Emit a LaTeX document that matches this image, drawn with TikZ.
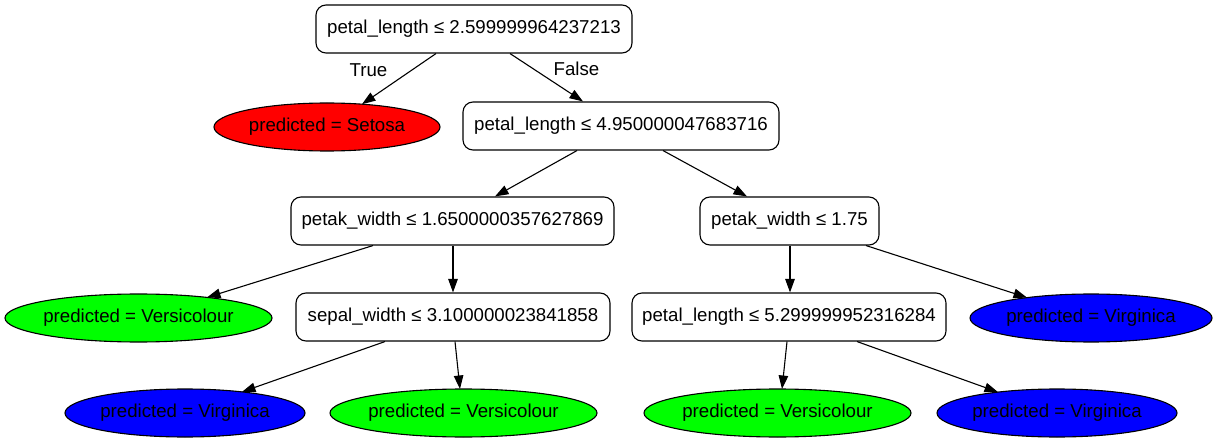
\documentclass[tikz,border=0pt]{standalone}
\usepackage{fontspec}
\setmainfont{Liberation Sans}
\usetikzlibrary{arrows.meta,shapes.geometric,calc}
\newcommand\zw[1]{\makebox[0pt]{#1}}
\begin{document}
\begin{tikzpicture}[x=1pt,y=-1pt,
  font=\fontsize{18.67}{22}\selectfont,
  dbox/.style={draw, rounded corners=10pt, fill=white, minimum height=48pt, inner sep=0pt, line width=1.1pt},
  leaf/.style={ellipse, draw, minimum height=48pt, inner sep=0pt, line width=1.1pt},
  edge/.style={-{Triangle[length=13.5pt,width=9.5pt]}, line width=1.1pt},
  elabel/.style={inner sep=0pt}]
\useasboundingbox (0,0) rectangle (1217,443);
\node[dbox, minimum width=316pt] (root) at (474,29) {petal\_length ≤ 2.599999964237213};
\node[leaf, fill=red, minimum width=226pt] (setosa) at (327,127) {\zw{predicted = Setosa}};
\node[dbox, minimum width=316pt] (n2) at (621,126) {petal\_length ≤ 4.950000047683716};
\node[dbox, minimum width=323pt] (n3) at (452.5,221) {petak\_width ≤ 1.6500000357627869};
\node[dbox, minimum width=179pt] (n4) at (789.5,221) {petak\_width ≤ 1.75};
\node[leaf, fill=green, minimum width=267pt] (vers1) at (138.5,318) {\zw{predicted = Versicolour}};
\node[dbox, minimum width=314pt] (sepal) at (453,317) {sepal\_width ≤ 3.100000023841858};
\node[dbox, minimum width=314pt] (pl) at (789,317) {petal\_length ≤ 5.299999952316284};
\node[leaf, fill=blue, minimum width=242pt] (virg2) at (1091,318) {\zw{predicted = Virginica}};
\node[leaf, fill=blue, minimum width=240pt] (virg1) at (185,413) {\zw{predicted = Virginica}};
\node[leaf, fill=green, minimum width=267pt] (vers2) at (463.5,413) {\zw{predicted = Versicolour}};
\node[leaf, fill=green, minimum width=267pt] (vers3) at (777.5,413) {\zw{predicted = Versicolour}};
\node[leaf, fill=blue, minimum width=240pt] (virg3) at (1057,413) {\zw{predicted = Virginica}};
\node[elabel] (ltrue) at (368.5,70) {True};
\node[elabel] (lfalse) at (576.5,69) {False};
\draw[edge] ([xshift=-38pt]root.south) -- ($(setosa.center)+(35,-22.8)$);
\draw[edge] ([xshift=36pt]root.south) -- ([xshift=-38pt]n2.north);
\draw[edge] ([xshift=-44pt]n2.south) -- ([xshift=42.5pt]n3.north);
\draw[edge] ([xshift=42pt]n2.south) -- ([xshift=-42.5pt]n4.north);
\draw[edge] ([xshift=-79.5pt]n3.south) -- ($(vers1.center)+(68.5,-20.6)$);
\draw[edge] ([xshift=0.5pt]n3.south) -- ([xshift=0pt]sepal.north);
\draw[edge] ([xshift=-68pt]sepal.south) -- ($(virg1.center)+(57,-21.1)$);
\draw[edge] ([xshift=2pt]sepal.south) -- ($(vers2.center)+(-3.5,-24)$);
\draw[edge] ([xshift=0.5pt]n4.south) -- ([xshift=1pt]pl.north);
\draw[edge] ([xshift=76.5pt]n4.south) -- ($(virg2.center)+(-64,-20.4)$);
\draw[edge] ([xshift=-2pt]pl.south) -- ($(vers3.center)+(4.5,-24)$);
\draw[edge] ([xshift=68pt]pl.south) -- ($(virg3.center)+(-59,-20.9)$);
\end{tikzpicture}
\end{document}
